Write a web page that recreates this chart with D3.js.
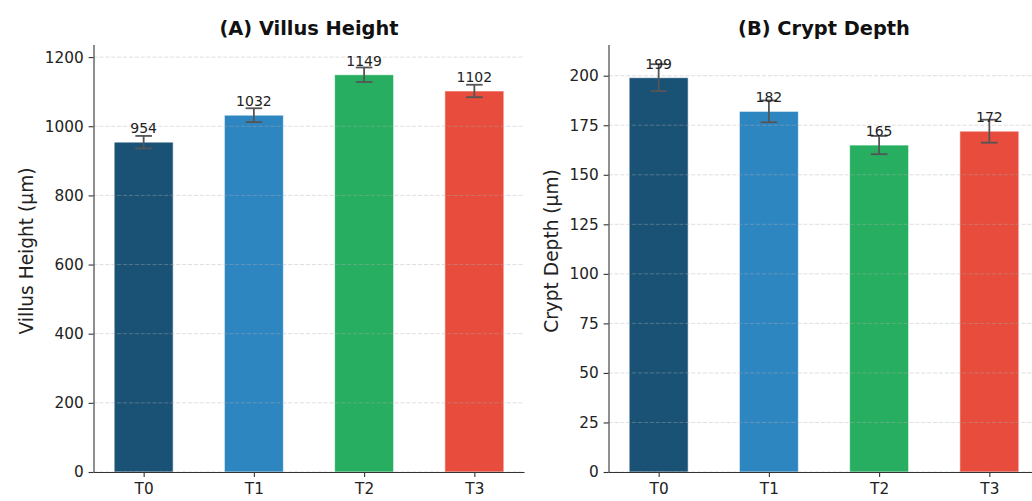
<!DOCTYPE html>
<html>
<head>
<meta charset="utf-8">
<script src="https://cdn.jsdelivr.net/npm/d3@7"></script>
<style>
  html, body { margin: 0; padding: 0; background: #fff; }
  svg { display: block; font-family: "DejaVu Sans", sans-serif; }
</style>
</head>
<body>
<svg id="chart" width="1032" height="501"></svg>
<script>
// Treatment groups
const categories = ["T0", "T1", "T2", "T3"];

// Villus height (µm): means and standard errors
const villusHeight = [954, 1032, 1149, 1102];
const villusErr = [18, 20, 21, 18];

// Crypt depth (µm): means and standard errors
const cryptDepth = [199, 182, 165, 172];
const cryptErr = [6.8, 5.5, 4.6, 5.8];

// Axis tick values
const villusTicks = [0, 200, 400, 600, 800, 1000, 1200];
const cryptTicks = [0, 25, 50, 75, 100, 125, 150, 175, 200];

// One colour per treatment
const barColors = ["#1a5276", "#2e86c1", "#27ae60", "#e74c3c"];

const svg = d3.select("#chart");
const plotTop = 45, plotBottom = 472, plotW = 431;

const panels = [
  { title: "(A) Villus Height", ylabel: "Villus Height (μm)", values: villusHeight, errs: villusErr,
    ticks: villusTicks, yMax: 1235, left: 93.5 },
  { title: "(B) Crypt Depth", ylabel: "Crypt Depth (μm)", values: cryptDepth, errs: cryptErr,
    ticks: cryptTicks, yMax: 215.5, left: 608.5 }
];

panels.forEach(p => {
  const g = svg.append("g");
  const x = d3.scaleLinear().domain([-0.455, categories.length - 1 + 0.455]).range([p.left, p.left + plotW]);
  const y = d3.scaleLinear().domain([0, p.yMax]).range([plotBottom, plotTop]);
  const barW = 0.535;

  // Bars
  g.selectAll("rect.bar").data(p.values).join("rect")
    .attr("class", "bar")
    .attr("x", (d, i) => x(i - barW / 2))
    .attr("width", x(barW) - x(0))
    .attr("y", d => y(d))
    .attr("height", d => y(0) - y(d))
    .attr("fill", (d, i) => barColors[i])
    .attr("stroke", "#ffffff")
    .attr("stroke-opacity", 0.6)
    .attr("stroke-width", 1);

  // Horizontal grid, drawn above the bars
  g.append("g").selectAll("line").data(p.ticks).join("line")
    .attr("x1", p.left).attr("x2", p.left + plotW)
    .attr("y1", d => y(d)).attr("y2", d => y(d))
    .attr("stroke", "#b0b0b0").attr("stroke-opacity", 0.4)
    .attr("stroke-width", 1).attr("stroke-dasharray", "4.1,1.8");

  // Error bars
  const eb = g.append("g").attr("stroke", "#555").attr("stroke-width", 1.8).attr("fill", "none");
  const cap = 8.3;
  p.values.forEach((v, i) => {
    const cx = x(i), y1 = y(v + p.errs[i]), y0 = y(v - p.errs[i]);
    eb.append("line").attr("x1", cx).attr("x2", cx).attr("y1", y0).attr("y2", y1);
    eb.append("line").attr("x1", cx - cap).attr("x2", cx + cap).attr("y1", y1).attr("y2", y1);
    eb.append("line").attr("x1", cx - cap).attr("x2", cx + cap).attr("y1", y0).attr("y2", y0);
  });

  // Value labels
  g.selectAll("text.val").data(p.values).join("text")
    .attr("class", "val")
    .attr("x", (d, i) => x(i))
    .attr("y", d => y(d) - 9)
    .attr("text-anchor", "middle")
    .attr("font-size", "14px")
    .attr("fill", "#222")
    .text(d => d3.format("d")(d));

  // Y axis
  const yAxis = g.append("g").attr("transform", `translate(${p.left},0)`)
    .call(d3.axisLeft(y).tickValues(p.ticks).tickFormat(d3.format("d")).tickSize(4.9).tickPadding(4.9));
  yAxis.select(".domain").attr("stroke", "#333").attr("stroke-width", 1.1)
    .attr("d", `M0.5,${plotTop}V${plotBottom}`);
  yAxis.selectAll(".tick line").attr("stroke", "#333").attr("stroke-width", 1.1);
  yAxis.selectAll(".tick text").attr("font-size", "15.3px").attr("fill", "#222")
    .attr("font-family", "DejaVu Sans");

  // X axis
  const xAxis = g.append("g").attr("transform", `translate(0,${plotBottom})`)
    .call(d3.axisBottom(x).tickValues(d3.range(categories.length)).tickFormat(i => categories[i])
      .tickSize(4.9).tickPadding(6.5));
  xAxis.select(".domain").attr("stroke", "#333").attr("stroke-width", 1.1)
    .attr("d", `M${p.left},0.5H${p.left + plotW}`);
  xAxis.selectAll(".tick line").attr("stroke", "#333").attr("stroke-width", 1.1);
  xAxis.selectAll(".tick text").attr("font-size", "15.3px").attr("fill", "#222")
    .attr("font-family", "DejaVu Sans");

  // Y axis label, placed left of the widest tick label
  let maxW = 0;
  yAxis.selectAll(".tick text").each(function () { maxW = Math.max(maxW, this.getBBox().width); });
  const lx = p.left - 9.8 - maxW - 18;
  g.append("text")
    .attr("transform", `translate(${lx},251) rotate(-90)`)
    .attr("text-anchor", "middle")
    .attr("dominant-baseline", "central")
    .attr("font-size", "18.6px")
    .attr("fill", "#222")
    .text(p.ylabel);

  // Panel title
  g.append("text")
    .attr("x", p.left + plotW / 2)
    .attr("y", 35)
    .attr("text-anchor", "middle")
    .attr("font-size", "19.4px")
    .attr("font-weight", "bold")
    .attr("fill", "#111")
    .text(p.title);
});
</script>
</body>
</html>
